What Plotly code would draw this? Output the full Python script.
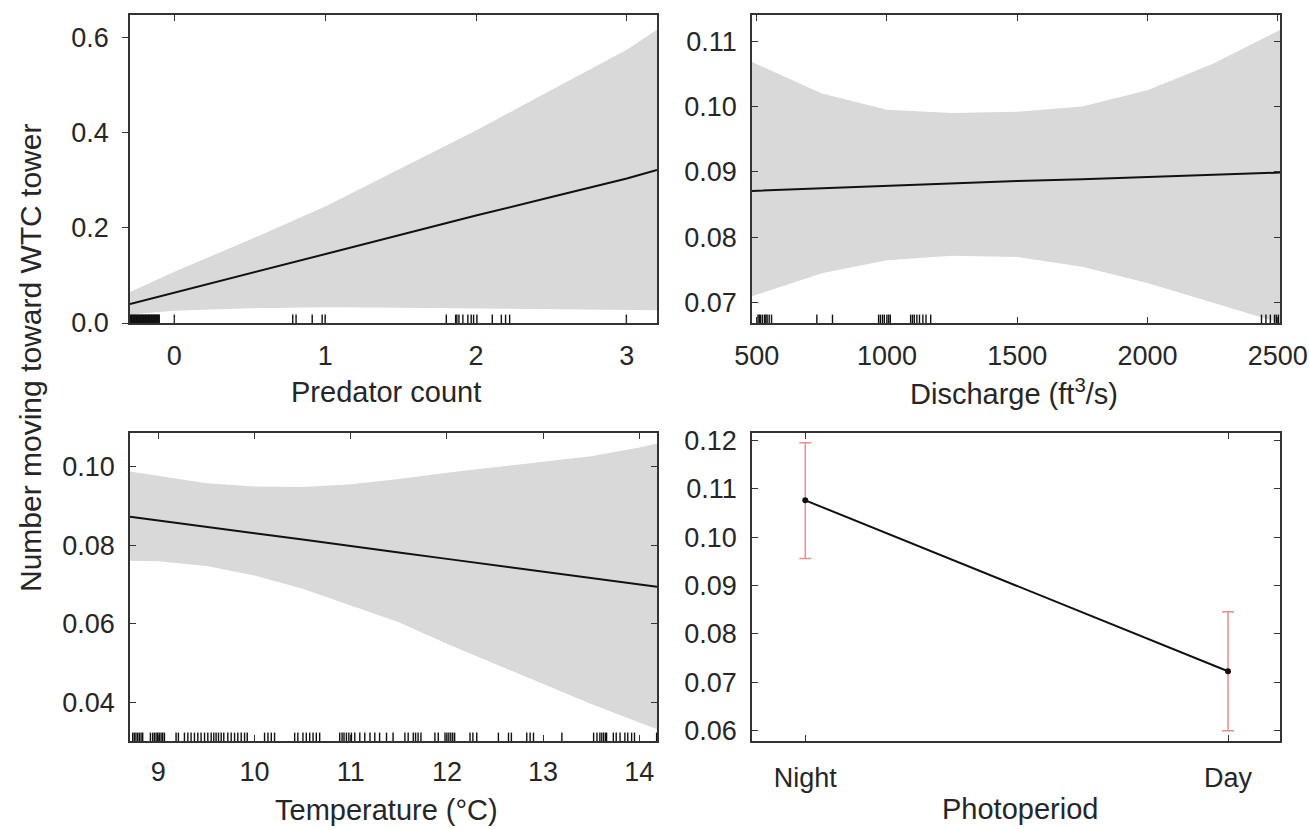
import plotly.graph_objects as go

W, H = 1309, 829
FONT = "Liberation Sans, Arial, sans-serif"
TXT = "#262626"
AX = "#333333"
BAND = "#d9d9d9"

# ---------------- data ----------------
# Panel A: predator count
pred_x = [-0.294, 0, 0.5, 1, 1.5, 2, 2.5, 3, 3.2]
pred_fit = [0.040, 0.064, 0.104, 0.145, 0.186, 0.226, 0.265, 0.304, 0.322]
pred_lo = [0.018, 0.026, 0.031, 0.033, 0.032, 0.031, 0.029, 0.028, 0.027]
pred_hi = [0.065, 0.108, 0.175, 0.245, 0.325, 0.405, 0.490, 0.575, 0.617]
pred_rug = [-0.29, -0.285, -0.28, -0.275, -0.27, -0.265, -0.26, -0.255, -0.25, -0.245,
            -0.24, -0.235, -0.23, -0.225, -0.22, -0.215, -0.21, -0.205, -0.20, -0.195,
            -0.19, -0.185, -0.18, -0.175, -0.17, -0.165, -0.16, -0.155, -0.15, -0.145,
            -0.14, -0.135, -0.13, -0.125, -0.12, -0.115, -0.11, -0.105, -0.10,
            0.0, 0.785, 0.807, 0.914, 0.98, 1.0,
            1.803, 1.865, 1.873, 1.887, 1.913, 1.946, 1.968, 1.984, 2.006,
            2.108, 2.168, 2.196, 2.223, 2.997]

# Panel B: discharge
dis_x = [482, 750, 1000, 1250, 1500, 1750, 2000, 2250, 2509]
dis_fit = [0.0871, 0.0875, 0.0879, 0.0882, 0.0886, 0.0889, 0.0892, 0.0895, 0.0899]
dis_lo = [0.0710, 0.0745, 0.0765, 0.0772, 0.0770, 0.0755, 0.0730, 0.0700, 0.0669]
dis_hi = [0.1068, 0.1020, 0.0995, 0.0990, 0.0992, 0.1000, 0.1025, 0.1065, 0.1117]
dis_rug = [505, 510, 515, 522, 530, 535, 540, 548, 557, 731, 791,
           968, 975, 983, 990, 1000, 1007, 1013,
           1091, 1098, 1105, 1115, 1125, 1138, 1150, 1168,
           2438, 2455, 2472, 2488, 2495, 2503]

# Panel C: temperature
tmp_x = [8.705, 9, 9.5, 10, 10.5, 11, 11.5, 12, 12.5, 13, 13.5, 14, 14.184]
tmp_fit = [0.0872, 0.0862, 0.0846, 0.0830, 0.0814, 0.0797, 0.0781, 0.0765,
           0.0749, 0.0733, 0.0716, 0.0700, 0.0694]
tmp_lo = [0.0760, 0.0759, 0.0747, 0.0723, 0.0689, 0.0647, 0.0604, 0.0549,
          0.0498, 0.0447, 0.0396, 0.0349, 0.0332]
tmp_hi = [0.0987, 0.0976, 0.0957, 0.0949, 0.0948, 0.0955, 0.0968, 0.0984,
          0.0998, 0.1012, 0.1026, 0.1048, 0.1058]
tmp_rug = [8.733, 8.75, 8.767, 8.785, 8.802, 8.82, 8.837,
           8.917, 8.94, 8.958, 8.976, 8.993, 9.01, 9.028, 9.045, 9.063,
           9.184, 9.208, 9.271, 9.306, 9.34, 9.375, 9.41, 9.444, 9.48, 9.514,
           9.549, 9.576, 9.6, 9.625, 9.653, 9.68,
           9.722, 9.757, 9.792, 9.826, 9.861, 9.896, 9.924,
           10.104, 10.139, 10.174, 10.208,
           10.417, 10.45, 10.503, 10.538, 10.573, 10.608, 10.642, 10.677,
           10.885, 10.91, 10.93, 10.955, 10.98, 11.007,
           11.042, 11.094, 11.146, 11.2, 11.25, 11.3, 11.372, 11.44,
           11.563, 11.597, 11.65, 11.674, 11.7, 11.73, 11.875, 11.91,
           11.98, 12.0, 12.02, 12.04, 12.06, 12.08, 12.24, 12.27, 12.31,
           12.535, 12.64, 12.67, 12.83, 12.865, 12.9, 13.195,
           13.525, 13.56, 13.59, 13.61, 13.63, 13.65, 13.66,
           13.73, 13.76, 13.8, 13.85, 13.88, 13.92, 13.95, 14.18]

# Panel D: photoperiod
photo_cat = ["Night", "Day"]
photo_fit = [0.1076, 0.0723]
photo_hi = [0.1195, 0.0846]
photo_lo = [0.0956, 0.0600]

# ---------------- figure ----------------
fig = go.Figure()


def band(x, lo, hi, fit, rug, ymin, n):
    xa, ya = ("x" if n == 1 else f"x{n}"), ("y" if n == 1 else f"y{n}")
    fig.add_trace(go.Scatter(x=x, y=lo, mode="lines", line=dict(width=0, color=BAND),
                             xaxis=xa, yaxis=ya, showlegend=False, hoverinfo="skip"))
    fig.add_trace(go.Scatter(x=x, y=hi, mode="lines", line=dict(width=0, color=BAND),
                             fill="tonexty", fillcolor=BAND,
                             xaxis=xa, yaxis=ya, showlegend=False, hoverinfo="skip"))
    fig.add_trace(go.Scatter(x=x, y=fit, mode="lines", line=dict(width=2, color="#111111"),
                             xaxis=xa, yaxis=ya, showlegend=False))
    fig.add_trace(go.Scatter(x=rug, y=[ymin] * len(rug), mode="markers",
                             marker=dict(symbol="line-ns", size=12,
                                         line=dict(width=1.4, color="#111111")),
                             cliponaxis=True, xaxis=xa, yaxis=ya, showlegend=False))


YR1 = [0, 0.648]
YR2 = [0.0669, 0.114]
YR3 = [0.0302, 0.1085]
YR4 = [0.0579, 0.1215]

band(pred_x, pred_lo, pred_hi, pred_fit, pred_rug, YR1[0], 1)
band(dis_x, dis_lo, dis_hi, dis_fit, dis_rug, YR2[0], 2)
band(tmp_x, tmp_lo, tmp_hi, tmp_fit, tmp_rug, YR3[0], 3)

fig.add_trace(go.Scatter(
    x=photo_cat, y=photo_fit, mode="lines+markers",
    line=dict(width=2, color="#111111"),
    marker=dict(size=6, color="#111111"),
    error_y=dict(type="data", symmetric=False,
                 array=[h - f for h, f in zip(photo_hi, photo_fit)],
                 arrayminus=[f - l for f, l in zip(photo_fit, photo_lo)],
                 color="#f08c8c", thickness=1.5, width=6),
    xaxis="x4", yaxis="y4", showlegend=False))


def dx(a, b):
    return [a / W, b / W]


def dy(top, bottom):
    return [1 - bottom / H, 1 - top / H]


tickfont = dict(family=FONT, size=27, color=TXT)
base = dict(showline=True, linecolor=AX, linewidth=1.5, showgrid=False, zeroline=False,
            ticks="inside", ticklen=6, tickwidth=1.3, tickcolor=AX, mirror="ticks",
            tickfont=tickfont, automargin=False)

LX = (130, 657)
RX = (752, 1280)
TY = (15, 323)
BY = (433, 741)

fig.update_layout(
    width=W, height=H,
    margin=dict(l=0, r=0, t=0, b=0, pad=0, autoexpand=False),
    paper_bgcolor="white", plot_bgcolor="white",
    xaxis=dict(base, domain=dx(*LX), anchor="y", range=[-0.294, 3.2],
               tickvals=[0, 1, 2, 3], ticklabelstandoff=8),
    yaxis=dict(base, domain=dy(*TY), anchor="x", range=YR1, ticks="outside", mirror=True,
               tickvals=[0, 0.2, 0.4, 0.6], tickformat=".1f", ticklabelstandoff=8),
    xaxis2=dict(base, domain=dx(*RX), anchor="y2", range=[482, 2509],
                tickvals=[500, 1000, 1500, 2000, 2500], ticklabelstandoff=8),
    yaxis2=dict(base, domain=dy(*TY), anchor="x2", range=YR2,
                tickvals=[0.07, 0.08, 0.09, 0.10, 0.11], tickformat=".2f", ticklabelstandoff=8),
    xaxis3=dict(base, domain=dx(*LX), anchor="y3", range=[8.705, 14.184],
                tickvals=[9, 10, 11, 12, 13, 14], ticklabelstandoff=6),
    yaxis3=dict(base, domain=dy(*BY), anchor="x3", range=YR3,
                tickvals=[0.04, 0.06, 0.08, 0.10], tickformat=".2f", ticklabelstandoff=8),
    xaxis4=dict(base, domain=dx(*RX), anchor="y4", type="category",
                categoryorder="array", categoryarray=photo_cat,
                range=[-0.126, 1.123], ticklabelstandoff=12),
    yaxis4=dict(base, domain=dy(*BY), anchor="x4", range=YR4,
                tickvals=[0.06, 0.07, 0.08, 0.09, 0.10, 0.11, 0.12], tickformat=".2f",
                ticklabelstandoff=8),
)

titles = [
    ("Predator count", 386, 392),
    ("Discharge (ft<sup>3</sup>/s)", 1014, 392),
    ("Temperature (°C)", 386, 810),
    ("Photoperiod", 1020, 809),
]
for t, x, y in titles:
    fig.add_annotation(text=t, x=x / W, y=1 - y / H, xref="paper", yref="paper",
                       showarrow=False, xanchor="center", yanchor="middle",
                       font=dict(family=FONT, size=29, color=TXT))
fig.add_annotation(text="Number moving toward WTC tower", x=30 / W, y=1 - 358 / H,
                   xref="paper", yref="paper", showarrow=False, textangle=-90,
                   xanchor="center", yanchor="middle",
                   font=dict(family=FONT, size=30, color=TXT))

fig.write_html("out.html")
